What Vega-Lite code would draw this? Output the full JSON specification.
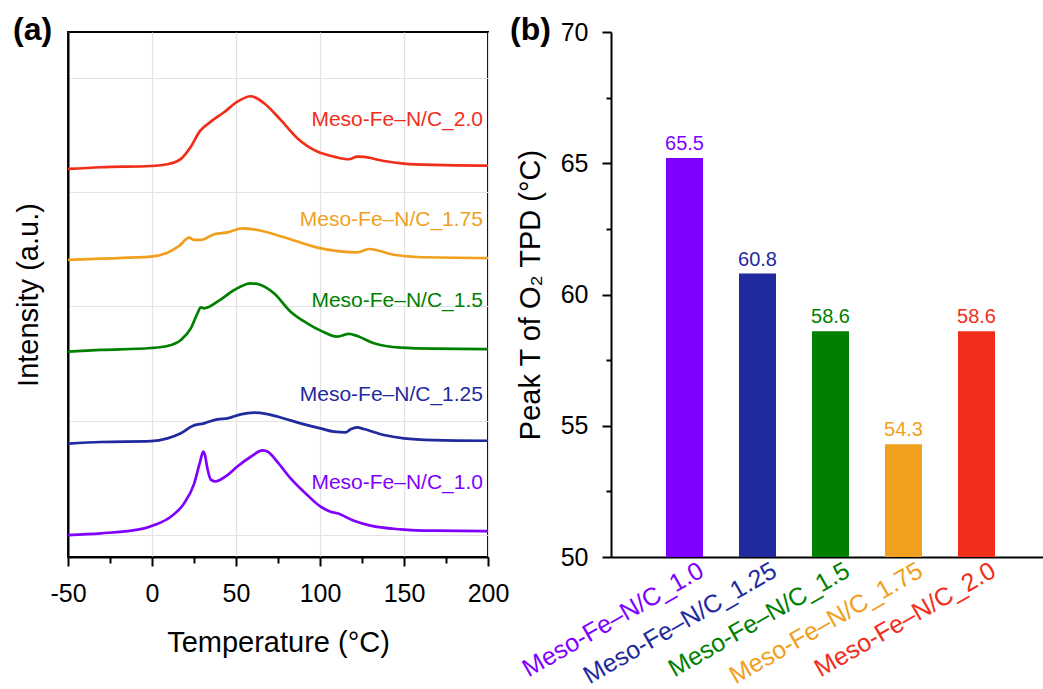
{
  "$schema": "https://vega.github.io/schema/vega-lite/v6.json",
  "padding": {"left": 12, "top": 13, "right": 0, "bottom": 0},
  "autosize": {"type": "pad"},
  "spacing": 0,
  "config": {
    "font": "Liberation Sans",
    "view": {"stroke": null},
    "axis": {
      "domainColor": "black", "tickColor": "black", "labelColor": "black", "titleColor": "black",
      "labelFont": "Liberation Sans", "titleFont": "Liberation Sans", "titleFontWeight": "normal",
      "labelFontSize": 25, "titleFontSize": 29, "domainWidth": 2, "tickWidth": 2, "grid": false, "labelLimit": 400
    },
    "title": {"font": "Liberation Sans", "fontSize": 32, "fontWeight": "bold", "color": "black"}
  },
  "datasets": {
    "curves": [
      {"sample": "Meso-Fe–N/C_1.0", "T": -50, "I": 0.0},
      {"sample": "Meso-Fe–N/C_1.0", "T": -30.4, "I": 0.015},
      {"sample": "Meso-Fe–N/C_1.0", "T": -4.6, "I": 0.058},
      {"sample": "Meso-Fe–N/C_1.0", "T": 1.3, "I": 0.087},
      {"sample": "Meso-Fe–N/C_1.0", "T": 11.2, "I": 0.16},
      {"sample": "Meso-Fe–N/C_1.0", "T": 19.1, "I": 0.277},
      {"sample": "Meso-Fe–N/C_1.0", "T": 25.1, "I": 0.45},
      {"sample": "Meso-Fe–N/C_1.0", "T": 28.6, "I": 0.64},
      {"sample": "Meso-Fe–N/C_1.0", "T": 30.5, "I": 0.73},
      {"sample": "Meso-Fe–N/C_1.0", "T": 31.5, "I": 0.70},
      {"sample": "Meso-Fe–N/C_1.0", "T": 33.0, "I": 0.58},
      {"sample": "Meso-Fe–N/C_1.0", "T": 35.0, "I": 0.485},
      {"sample": "Meso-Fe–N/C_1.0", "T": 37.5, "I": 0.47},
      {"sample": "Meso-Fe–N/C_1.0", "T": 44.9, "I": 0.525},
      {"sample": "Meso-Fe–N/C_1.0", "T": 50.8, "I": 0.60},
      {"sample": "Meso-Fe–N/C_1.0", "T": 58.8, "I": 0.685},
      {"sample": "Meso-Fe–N/C_1.0", "T": 65.7, "I": 0.74},
      {"sample": "Meso-Fe–N/C_1.0", "T": 68.7, "I": 0.73},
      {"sample": "Meso-Fe–N/C_1.0", "T": 74.6, "I": 0.64},
      {"sample": "Meso-Fe–N/C_1.0", "T": 82.5, "I": 0.495},
      {"sample": "Meso-Fe–N/C_1.0", "T": 92.4, "I": 0.35},
      {"sample": "Meso-Fe–N/C_1.0", "T": 100.4, "I": 0.248},
      {"sample": "Meso-Fe–N/C_1.0", "T": 106.3, "I": 0.204},
      {"sample": "Meso-Fe–N/C_1.0", "T": 110.3, "I": 0.19},
      {"sample": "Meso-Fe–N/C_1.0", "T": 120.2, "I": 0.125},
      {"sample": "Meso-Fe–N/C_1.0", "T": 130.1, "I": 0.082},
      {"sample": "Meso-Fe–N/C_1.0", "T": 147.9, "I": 0.05},
      {"sample": "Meso-Fe–N/C_1.0", "T": 167.7, "I": 0.038},
      {"sample": "Meso-Fe–N/C_1.0", "T": 200, "I": 0.035},

      {"sample": "Meso-Fe–N/C_1.25", "T": -50, "I": 0.80},
      {"sample": "Meso-Fe–N/C_1.25", "T": -30.4, "I": 0.814},
      {"sample": "Meso-Fe–N/C_1.25", "T": -0.7, "I": 0.822},
      {"sample": "Meso-Fe–N/C_1.25", "T": 9.2, "I": 0.846},
      {"sample": "Meso-Fe–N/C_1.25", "T": 17.2, "I": 0.89},
      {"sample": "Meso-Fe–N/C_1.25", "T": 24.1, "I": 0.954},
      {"sample": "Meso-Fe–N/C_1.25", "T": 31.0, "I": 0.977},
      {"sample": "Meso-Fe–N/C_1.25", "T": 38.9, "I": 1.012},
      {"sample": "Meso-Fe–N/C_1.25", "T": 44.9, "I": 1.02},
      {"sample": "Meso-Fe–N/C_1.25", "T": 52.8, "I": 1.056},
      {"sample": "Meso-Fe–N/C_1.25", "T": 60.7, "I": 1.07},
      {"sample": "Meso-Fe–N/C_1.25", "T": 68.7, "I": 1.058},
      {"sample": "Meso-Fe–N/C_1.25", "T": 78.6, "I": 1.02},
      {"sample": "Meso-Fe–N/C_1.25", "T": 88.5, "I": 0.977},
      {"sample": "Meso-Fe–N/C_1.25", "T": 100.4, "I": 0.933},
      {"sample": "Meso-Fe–N/C_1.25", "T": 108.3, "I": 0.904},
      {"sample": "Meso-Fe–N/C_1.25", "T": 115.2, "I": 0.898},
      {"sample": "Meso-Fe–N/C_1.25", "T": 118.2, "I": 0.925},
      {"sample": "Meso-Fe–N/C_1.25", "T": 122.1, "I": 0.942},
      {"sample": "Meso-Fe–N/C_1.25", "T": 126.1, "I": 0.927},
      {"sample": "Meso-Fe–N/C_1.25", "T": 138.0, "I": 0.875},
      {"sample": "Meso-Fe–N/C_1.25", "T": 149.9, "I": 0.846},
      {"sample": "Meso-Fe–N/C_1.25", "T": 167.7, "I": 0.831},
      {"sample": "Meso-Fe–N/C_1.25", "T": 200, "I": 0.825},

      {"sample": "Meso-Fe–N/C_1.5", "T": -50, "I": 1.604},
      {"sample": "Meso-Fe–N/C_1.5", "T": -30.4, "I": 1.619},
      {"sample": "Meso-Fe–N/C_1.5", "T": -0.7, "I": 1.636},
      {"sample": "Meso-Fe–N/C_1.5", "T": 9.2, "I": 1.654},
      {"sample": "Meso-Fe–N/C_1.5", "T": 17.2, "I": 1.706},
      {"sample": "Meso-Fe–N/C_1.5", "T": 23.1, "I": 1.808},
      {"sample": "Meso-Fe–N/C_1.5", "T": 27.1, "I": 1.94},
      {"sample": "Meso-Fe–N/C_1.5", "T": 29.0, "I": 1.992},
      {"sample": "Meso-Fe–N/C_1.5", "T": 31.0, "I": 1.983},
      {"sample": "Meso-Fe–N/C_1.5", "T": 39.9, "I": 2.05},
      {"sample": "Meso-Fe–N/C_1.5", "T": 48.9, "I": 2.143},
      {"sample": "Meso-Fe–N/C_1.5", "T": 58.8, "I": 2.202},
      {"sample": "Meso-Fe–N/C_1.5", "T": 64.7, "I": 2.187},
      {"sample": "Meso-Fe–N/C_1.5", "T": 72.6, "I": 2.115},
      {"sample": "Meso-Fe–N/C_1.5", "T": 82.5, "I": 1.954},
      {"sample": "Meso-Fe–N/C_1.5", "T": 92.4, "I": 1.852},
      {"sample": "Meso-Fe–N/C_1.5", "T": 100.4, "I": 1.788},
      {"sample": "Meso-Fe–N/C_1.5", "T": 110.3, "I": 1.735},
      {"sample": "Meso-Fe–N/C_1.5", "T": 117.2, "I": 1.759},
      {"sample": "Meso-Fe–N/C_1.5", "T": 122.1, "I": 1.741},
      {"sample": "Meso-Fe–N/C_1.5", "T": 132.1, "I": 1.677},
      {"sample": "Meso-Fe–N/C_1.5", "T": 147.9, "I": 1.639},
      {"sample": "Meso-Fe–N/C_1.5", "T": 167.7, "I": 1.63},
      {"sample": "Meso-Fe–N/C_1.5", "T": 200, "I": 1.627},

      {"sample": "Meso-Fe–N/C_1.75", "T": -50, "I": 2.406},
      {"sample": "Meso-Fe–N/C_1.75", "T": -30.4, "I": 2.418},
      {"sample": "Meso-Fe–N/C_1.75", "T": -0.7, "I": 2.435},
      {"sample": "Meso-Fe–N/C_1.75", "T": 9.2, "I": 2.47},
      {"sample": "Meso-Fe–N/C_1.75", "T": 16.2, "I": 2.529},
      {"sample": "Meso-Fe–N/C_1.75", "T": 22.1, "I": 2.601},
      {"sample": "Meso-Fe–N/C_1.75", "T": 25.1, "I": 2.581},
      {"sample": "Meso-Fe–N/C_1.75", "T": 29.0, "I": 2.581},
      {"sample": "Meso-Fe–N/C_1.75", "T": 37.0, "I": 2.631},
      {"sample": "Meso-Fe–N/C_1.75", "T": 44.9, "I": 2.648},
      {"sample": "Meso-Fe–N/C_1.75", "T": 53.8, "I": 2.683},
      {"sample": "Meso-Fe–N/C_1.75", "T": 62.7, "I": 2.668},
      {"sample": "Meso-Fe–N/C_1.75", "T": 78.6, "I": 2.605},
      {"sample": "Meso-Fe–N/C_1.75", "T": 98.4, "I": 2.514},
      {"sample": "Meso-Fe–N/C_1.75", "T": 122.1, "I": 2.473},
      {"sample": "Meso-Fe–N/C_1.75", "T": 129.1, "I": 2.502},
      {"sample": "Meso-Fe–N/C_1.75", "T": 143.9, "I": 2.452},
      {"sample": "Meso-Fe–N/C_1.75", "T": 157.8, "I": 2.432},
      {"sample": "Meso-Fe–N/C_1.75", "T": 200, "I": 2.423},

      {"sample": "Meso-Fe–N/C_2.0", "T": -50, "I": 3.202},
      {"sample": "Meso-Fe–N/C_2.0", "T": -30.4, "I": 3.217},
      {"sample": "Meso-Fe–N/C_2.0", "T": -0.7, "I": 3.228},
      {"sample": "Meso-Fe–N/C_2.0", "T": 9.2, "I": 3.243},
      {"sample": "Meso-Fe–N/C_2.0", "T": 17.2, "I": 3.29},
      {"sample": "Meso-Fe–N/C_2.0", "T": 23.1, "I": 3.397},
      {"sample": "Meso-Fe–N/C_2.0", "T": 28.6, "I": 3.535},
      {"sample": "Meso-Fe–N/C_2.0", "T": 35.0, "I": 3.616},
      {"sample": "Meso-Fe–N/C_2.0", "T": 42.9, "I": 3.698},
      {"sample": "Meso-Fe–N/C_2.0", "T": 50.8, "I": 3.791},
      {"sample": "Meso-Fe–N/C_2.0", "T": 58.8, "I": 3.838},
      {"sample": "Meso-Fe–N/C_2.0", "T": 66.7, "I": 3.777},
      {"sample": "Meso-Fe–N/C_2.0", "T": 76.6, "I": 3.631},
      {"sample": "Meso-Fe–N/C_2.0", "T": 86.5, "I": 3.471},
      {"sample": "Meso-Fe–N/C_2.0", "T": 98.4, "I": 3.354},
      {"sample": "Meso-Fe–N/C_2.0", "T": 108.3, "I": 3.31},
      {"sample": "Meso-Fe–N/C_2.0", "T": 117.2, "I": 3.287},
      {"sample": "Meso-Fe–N/C_2.0", "T": 122.1, "I": 3.31},
      {"sample": "Meso-Fe–N/C_2.0", "T": 126.1, "I": 3.307},
      {"sample": "Meso-Fe–N/C_2.0", "T": 138.0, "I": 3.272},
      {"sample": "Meso-Fe–N/C_2.0", "T": 149.9, "I": 3.249},
      {"sample": "Meso-Fe–N/C_2.0", "T": 167.7, "I": 3.237},
      {"sample": "Meso-Fe–N/C_2.0", "T": 200, "I": 3.231}
    ],
    "curveLabels": [
      {"sample": "Meso-Fe–N/C_1.0", "T": 197, "I": 0.455},
      {"sample": "Meso-Fe–N/C_1.25", "T": 197, "I": 1.225},
      {"sample": "Meso-Fe–N/C_1.5", "T": 197, "I": 2.047},
      {"sample": "Meso-Fe–N/C_1.75", "T": 197, "I": 2.756},
      {"sample": "Meso-Fe–N/C_2.0", "T": 197, "I": 3.63}
    ],
    "peaks": [
      {"sample": "Meso-Fe–N/C_1.0", "peak": 65.2, "label": "65.5"},
      {"sample": "Meso-Fe–N/C_1.25", "peak": 60.8, "label": "60.8"},
      {"sample": "Meso-Fe–N/C_1.5", "peak": 58.6, "label": "58.6"},
      {"sample": "Meso-Fe–N/C_1.75", "peak": 54.3, "label": "54.3"},
      {"sample": "Meso-Fe–N/C_2.0", "peak": 58.6, "label": "58.6"}
    ]
  },
  "hconcat": [
    {
      "width": 420,
      "height": 525,
      "view": {"stroke": "black", "strokeWidth": 2},
      "title": {"text": "(a)", "anchor": "start", "frame": "group", "dx": -55, "baseline": "middle", "offset": -30},
      "resolve": {"axis": {"x": "independent"}},
      "layer": [
        {
          "data": {"name": "curves"},
          "mark": {"type": "line", "strokeWidth": 2.7, "interpolate": "monotone"},
          "encoding": {
            "x": {"field": "T", "type": "quantitative",
              "scale": {"domain": [-50, 200], "nice": false, "zero": false},
              "axis": {"title": "Temperature (°C)", "values": [-50, 0, 50, 100, 150, 200], "grid": true,
                "gridColor": "#e2e2e2", "gridWidth": 1.2, "tickSize": 9, "labelPadding": 15, "titlePadding": 22,
                "labelFlush": false, "labelExpr": "'' + datum.value"}},
            "y": {"field": "I", "type": "quantitative",
              "scale": {"domain": [-0.192, 4.4], "nice": false, "zero": false},
              "axis": {"title": "Intensity (a.u.)", "values": [0, 1, 2, 3, 4], "labels": false, "ticks": false,
                "grid": true, "gridColor": "#e2e2e2", "gridWidth": 1.2, "titlePadding": 25}},
            "color": {"field": "sample", "type": "nominal", "legend": null,
              "scale": {"domain": ["Meso-Fe–N/C_1.0", "Meso-Fe–N/C_1.25", "Meso-Fe–N/C_1.5", "Meso-Fe–N/C_1.75", "Meso-Fe–N/C_2.0"],
                "range": ["#8000FF", "#1F2A9E", "#008000", "#F0A01E", "#F02E1A"]}},
            "detail": {"field": "sample"}
          }
        },
        {
          "data": {"name": "curveLabels"},
          "mark": {"type": "text", "align": "right", "baseline": "middle", "fontSize": 21},
          "encoding": {
            "x": {"field": "T", "type": "quantitative",
              "axis": {"orient": "bottom", "title": null, "values": [-25, 25, 75, 125, 175], "labels": false,
                "domain": false, "grid": false, "tickSize": 6}},
            "y": {"field": "I", "type": "quantitative"},
            "text": {"field": "sample"},
            "color": {"field": "sample", "type": "nominal", "legend": null}
          }
        }
      ]
    },
    {
      "width": 432,
      "height": 525,
      "title": {"text": "(b)", "anchor": "start", "frame": "group", "dx": -101, "baseline": "middle", "offset": -42},
      "resolve": {"axis": {"y": "independent"}},
      "layer": [
        {
          "data": {"name": "peaks"},
          "mark": {"type": "bar"},
          "encoding": {
            "x": {"field": "sample", "type": "nominal", "sort": null,
              "scale": {"paddingInner": 0.493, "paddingOuter": 0.7055, "align": 0.534},
              "axis": {"title": null, "ticks": false, "tickSize": 0, "labelAngle": -30, "labelAlign": "right",
                "labelBaseline": "middle", "labelFontSize": 25, "labelOffset": 17, "labelPadding": 11,
                "labelColor": {"condition": [
                  {"test": "datum.value === 'Meso-Fe–N/C_1.0'", "value": "#8000FF"},
                  {"test": "datum.value === 'Meso-Fe–N/C_1.25'", "value": "#1F2A9E"},
                  {"test": "datum.value === 'Meso-Fe–N/C_1.5'", "value": "#008000"},
                  {"test": "datum.value === 'Meso-Fe–N/C_1.75'", "value": "#F0A01E"}
                ], "value": "#F02E1A"}}},
            "y": {"field": "peak", "type": "quantitative",
              "scale": {"domain": [50, 70], "nice": false, "zero": false},
              "axis": {"title": "Peak T of O₂ TPD (°C)", "values": [50, 55, 60, 65, 70], "tickSize": 9,
                "labelPadding": 14, "titlePadding": 15, "labelFlush": false}},
            "y2": {"datum": 50},
            "color": {"field": "sample", "type": "nominal", "legend": null}
          }
        },
        {
          "data": {"name": "peaks"},
          "mark": {"type": "text", "baseline": "bottom", "dy": -4, "fontSize": 20},
          "encoding": {
            "x": {"field": "sample", "type": "nominal", "sort": null},
            "y": {"field": "peak", "type": "quantitative",
              "axis": {"orient": "left", "title": null, "values": [52.5, 57.5, 62.5, 67.5], "labels": false,
                "domain": false, "grid": false, "tickSize": 5}},
            "text": {"field": "label"},
            "color": {"field": "sample", "type": "nominal", "legend": null}
          }
        },
        {
          "mark": {"type": "rule", "color": "black", "strokeWidth": 2},
          "encoding": {"y": {"datum": 70, "axis": null}}
        }
      ]
    }
  ]
}
